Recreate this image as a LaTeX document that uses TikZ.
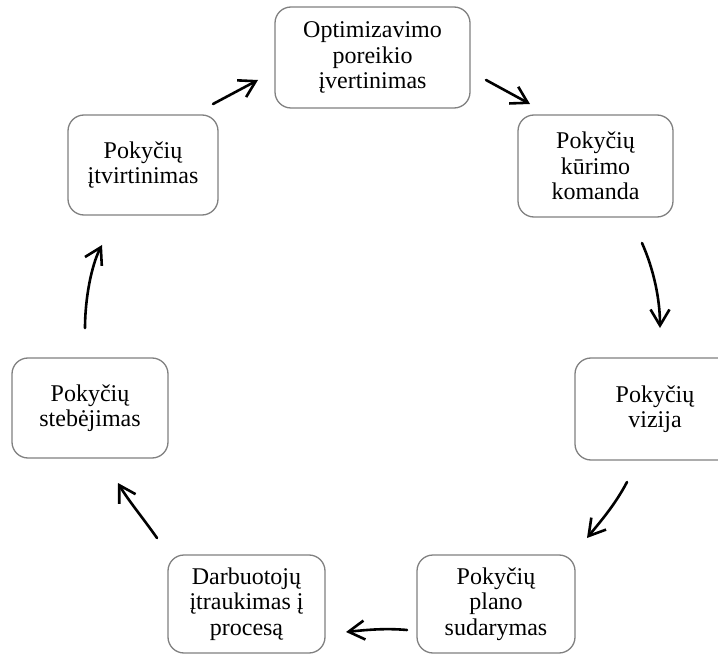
\documentclass[tikz,border=0pt]{standalone}
\usepackage{fontspec}
\setmainfont{Liberation Serif}
\usetikzlibrary{arrows.meta}
\begin{document}
\begin{tikzpicture}[x=1pt,y=-1pt,
  stepbox/.style={draw=black!50, line width=1.3pt, rounded corners=16pt, align=center,
    font=\fontsize{24}{25.5}\selectfont, inner sep=0pt},
  flow/.style={line width=2.6pt, line cap=round, -{Straight Barb[length=16pt,width=19pt,line width=2.6pt]}}]
\useasboundingbox (0,0) rectangle (718,655);
\clip (0,0) rectangle (718,655);
\node[stepbox, minimum width=195pt, minimum height=101pt] (top) at (372.5,57.5) {Optimizavimo\\poreikio\\įvertinimas};
\node[stepbox, minimum width=155pt, minimum height=102pt] (rtop) at (595.5,166) {Pokyčių\\kūrimo\\komanda};
\node[stepbox, minimum width=160pt, minimum height=102pt] (rmid) at (655,409) {Pokyčių\\vizija};
\node[stepbox, minimum width=158pt, minimum height=98pt] (bright) at (496,604) {Pokyčių\\plano\\sudarymas};
\node[stepbox, minimum width=157pt, minimum height=98pt] (bleft) at (246.5,604) {Darbuotojų\\įtraukimas į\\procesą};
\node[stepbox, minimum width=156pt, minimum height=100pt] (lmid) at (90,408) {Pokyčių\\stebėjimas};
\node[stepbox, minimum width=150pt, minimum height=100pt] (ltop) at (143,165) {Pokyčių\\įtvirtinimas};
\coordinate (a1s) at (213,104); \coordinate (a1e) at (258,80);
\coordinate (a2s) at (486,80); \coordinate (a2e) at (530,104);
\coordinate (a3s) at (642,243); \coordinate (a3e) at (660,328);
\coordinate (a4s) at (627,482); \coordinate (a4e) at (587,538);
\coordinate (a5s) at (407,630); \coordinate (a5e) at (346,632);
\coordinate (a6s) at (157,538); \coordinate (a6e) at (118,483);
\coordinate (a7s) at (85,328); \coordinate (a7e) at (102,245);
\draw[flow] (a1s) -- (a1e);
\draw[flow] (a2s) -- (a2e);
\draw[flow] (a3s) .. controls (654,270) and (660,300) .. (a3e);
\draw[flow] (a4s) .. controls (615,505) and (600,522) .. (a4e);
\draw[flow] (a5s) .. controls (385,628) and (365,630) .. (a5e);
\draw[flow] (a6s) .. controls (143,518) and (128,500) .. (a6e);
\draw[flow] (a7s) .. controls (85,300) and (91,266) .. (a7e);
\end{tikzpicture}
\end{document}
